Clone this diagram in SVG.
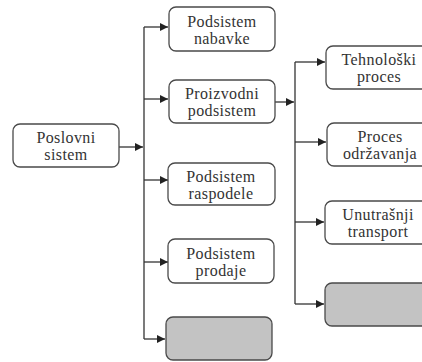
<svg xmlns="http://www.w3.org/2000/svg" width="422" height="362" viewBox="0 0 422 362">
  <defs>
    <marker id="arr" viewBox="0 0 10 10" refX="10" refY="5" markerWidth="8" markerHeight="8" markerUnits="userSpaceOnUse" orient="auto">
      <path d="M0,0 L10,5 L0,10 z" fill="#222"/>
    </marker>
    <style>
      .box { fill: #ffffff; stroke: #4a4a4a; stroke-width: 1.3; }
      .empty { fill: #c3c3c3; stroke: #4a4a4a; stroke-width: 1.3; }
      .lbl { font-family: "Times New Roman", Tinos, "Noto Serif", "DejaVu Serif", "Liberation Serif", FreeSerif, Georgia, serif; font-size: 16px; fill: #333; text-anchor: middle; letter-spacing: 0.4px; }
      .wire { fill: none; stroke: #333; stroke-width: 1.3; }
    </style>
  </defs>
  <rect width="422" height="362" fill="#ffffff"/>

  <!-- connectors -->
  <g id="connectors">
    <line class="wire" x1="144" y1="27" x2="144" y2="339"/>
    <line class="wire" x1="119" y1="147" x2="143" y2="147" marker-end="url(#arr)"/>
    <line class="wire" x1="144" y1="27" x2="168" y2="27" marker-end="url(#arr)"/>
    <line class="wire" x1="144" y1="99" x2="168" y2="99" marker-end="url(#arr)"/>
    <line class="wire" x1="144" y1="180" x2="168" y2="180" marker-end="url(#arr)"/>
    <line class="wire" x1="144" y1="262" x2="168" y2="262" marker-end="url(#arr)"/>
    <line class="wire" x1="144" y1="339" x2="165" y2="339" marker-end="url(#arr)"/>

    <line class="wire" x1="295" y1="62" x2="295" y2="304"/>
    <line class="wire" x1="275" y1="102" x2="294" y2="102" marker-end="url(#arr)"/>
    <line class="wire" x1="295" y1="62" x2="325" y2="62" marker-end="url(#arr)"/>
    <line class="wire" x1="295" y1="142" x2="326" y2="142" marker-end="url(#arr)"/>
    <line class="wire" x1="295" y1="222" x2="324" y2="222" marker-end="url(#arr)"/>
    <line class="wire" x1="295" y1="304" x2="324" y2="304" marker-end="url(#arr)"/>
  </g>

  <g id="poslovni-sistem">
    <rect class="box" x="13" y="124" width="106" height="43" rx="7"/>
    <text class="lbl" x="66" y="143">Poslovni</text>
    <text class="lbl" x="66" y="160">sistem</text>
  </g>

  <g id="podsistem-nabavke">
    <rect class="box" x="169" y="7" width="106" height="44" rx="7"/>
    <text class="lbl" x="222" y="27">Podsistem</text>
    <text class="lbl" x="222" y="44">nabavke</text>
  </g>

  <g id="proizvodni-podsistem">
    <rect class="box" x="169" y="80" width="106" height="43" rx="7"/>
    <text class="lbl" x="222" y="99">Proizvodni</text>
    <text class="lbl" x="222" y="116">podsistem</text>
  </g>

  <g id="podsistem-raspodele">
    <rect class="box" x="168" y="163" width="107" height="42" rx="7"/>
    <text class="lbl" x="221" y="182">Podsistem</text>
    <text class="lbl" x="221" y="199">raspodele</text>
  </g>

  <g id="podsistem-prodaje">
    <rect class="box" x="168" y="239" width="106" height="44" rx="7"/>
    <text class="lbl" x="221" y="259">Podsistem</text>
    <text class="lbl" x="221" y="276">prodaje</text>
  </g>

  <g id="ostalo-1">
    <rect class="empty" x="166" y="317" width="106" height="43" rx="7"/>
  </g>

  <g id="tehnoloski-proces">
    <rect class="box" x="326" y="46" width="106" height="43" rx="7"/>
    <text class="lbl" x="379" y="65">Tehnološki</text>
    <text class="lbl" x="379" y="82">proces</text>
  </g>

  <g id="proces-odrzavanja">
    <rect class="box" x="327" y="123" width="106" height="43" rx="7"/>
    <text class="lbl" x="380" y="142">Proces</text>
    <text class="lbl" x="380" y="159">održavanja</text>
  </g>

  <g id="unutrasnji-transport">
    <rect class="box" x="325" y="201" width="106" height="43" rx="7"/>
    <text class="lbl" x="378" y="220">Unutrašnji</text>
    <text class="lbl" x="378" y="237">transport</text>
  </g>

  <g id="ostalo-2">
    <rect class="empty" x="325" y="283" width="106" height="43" rx="7"/>
  </g>
</svg>
